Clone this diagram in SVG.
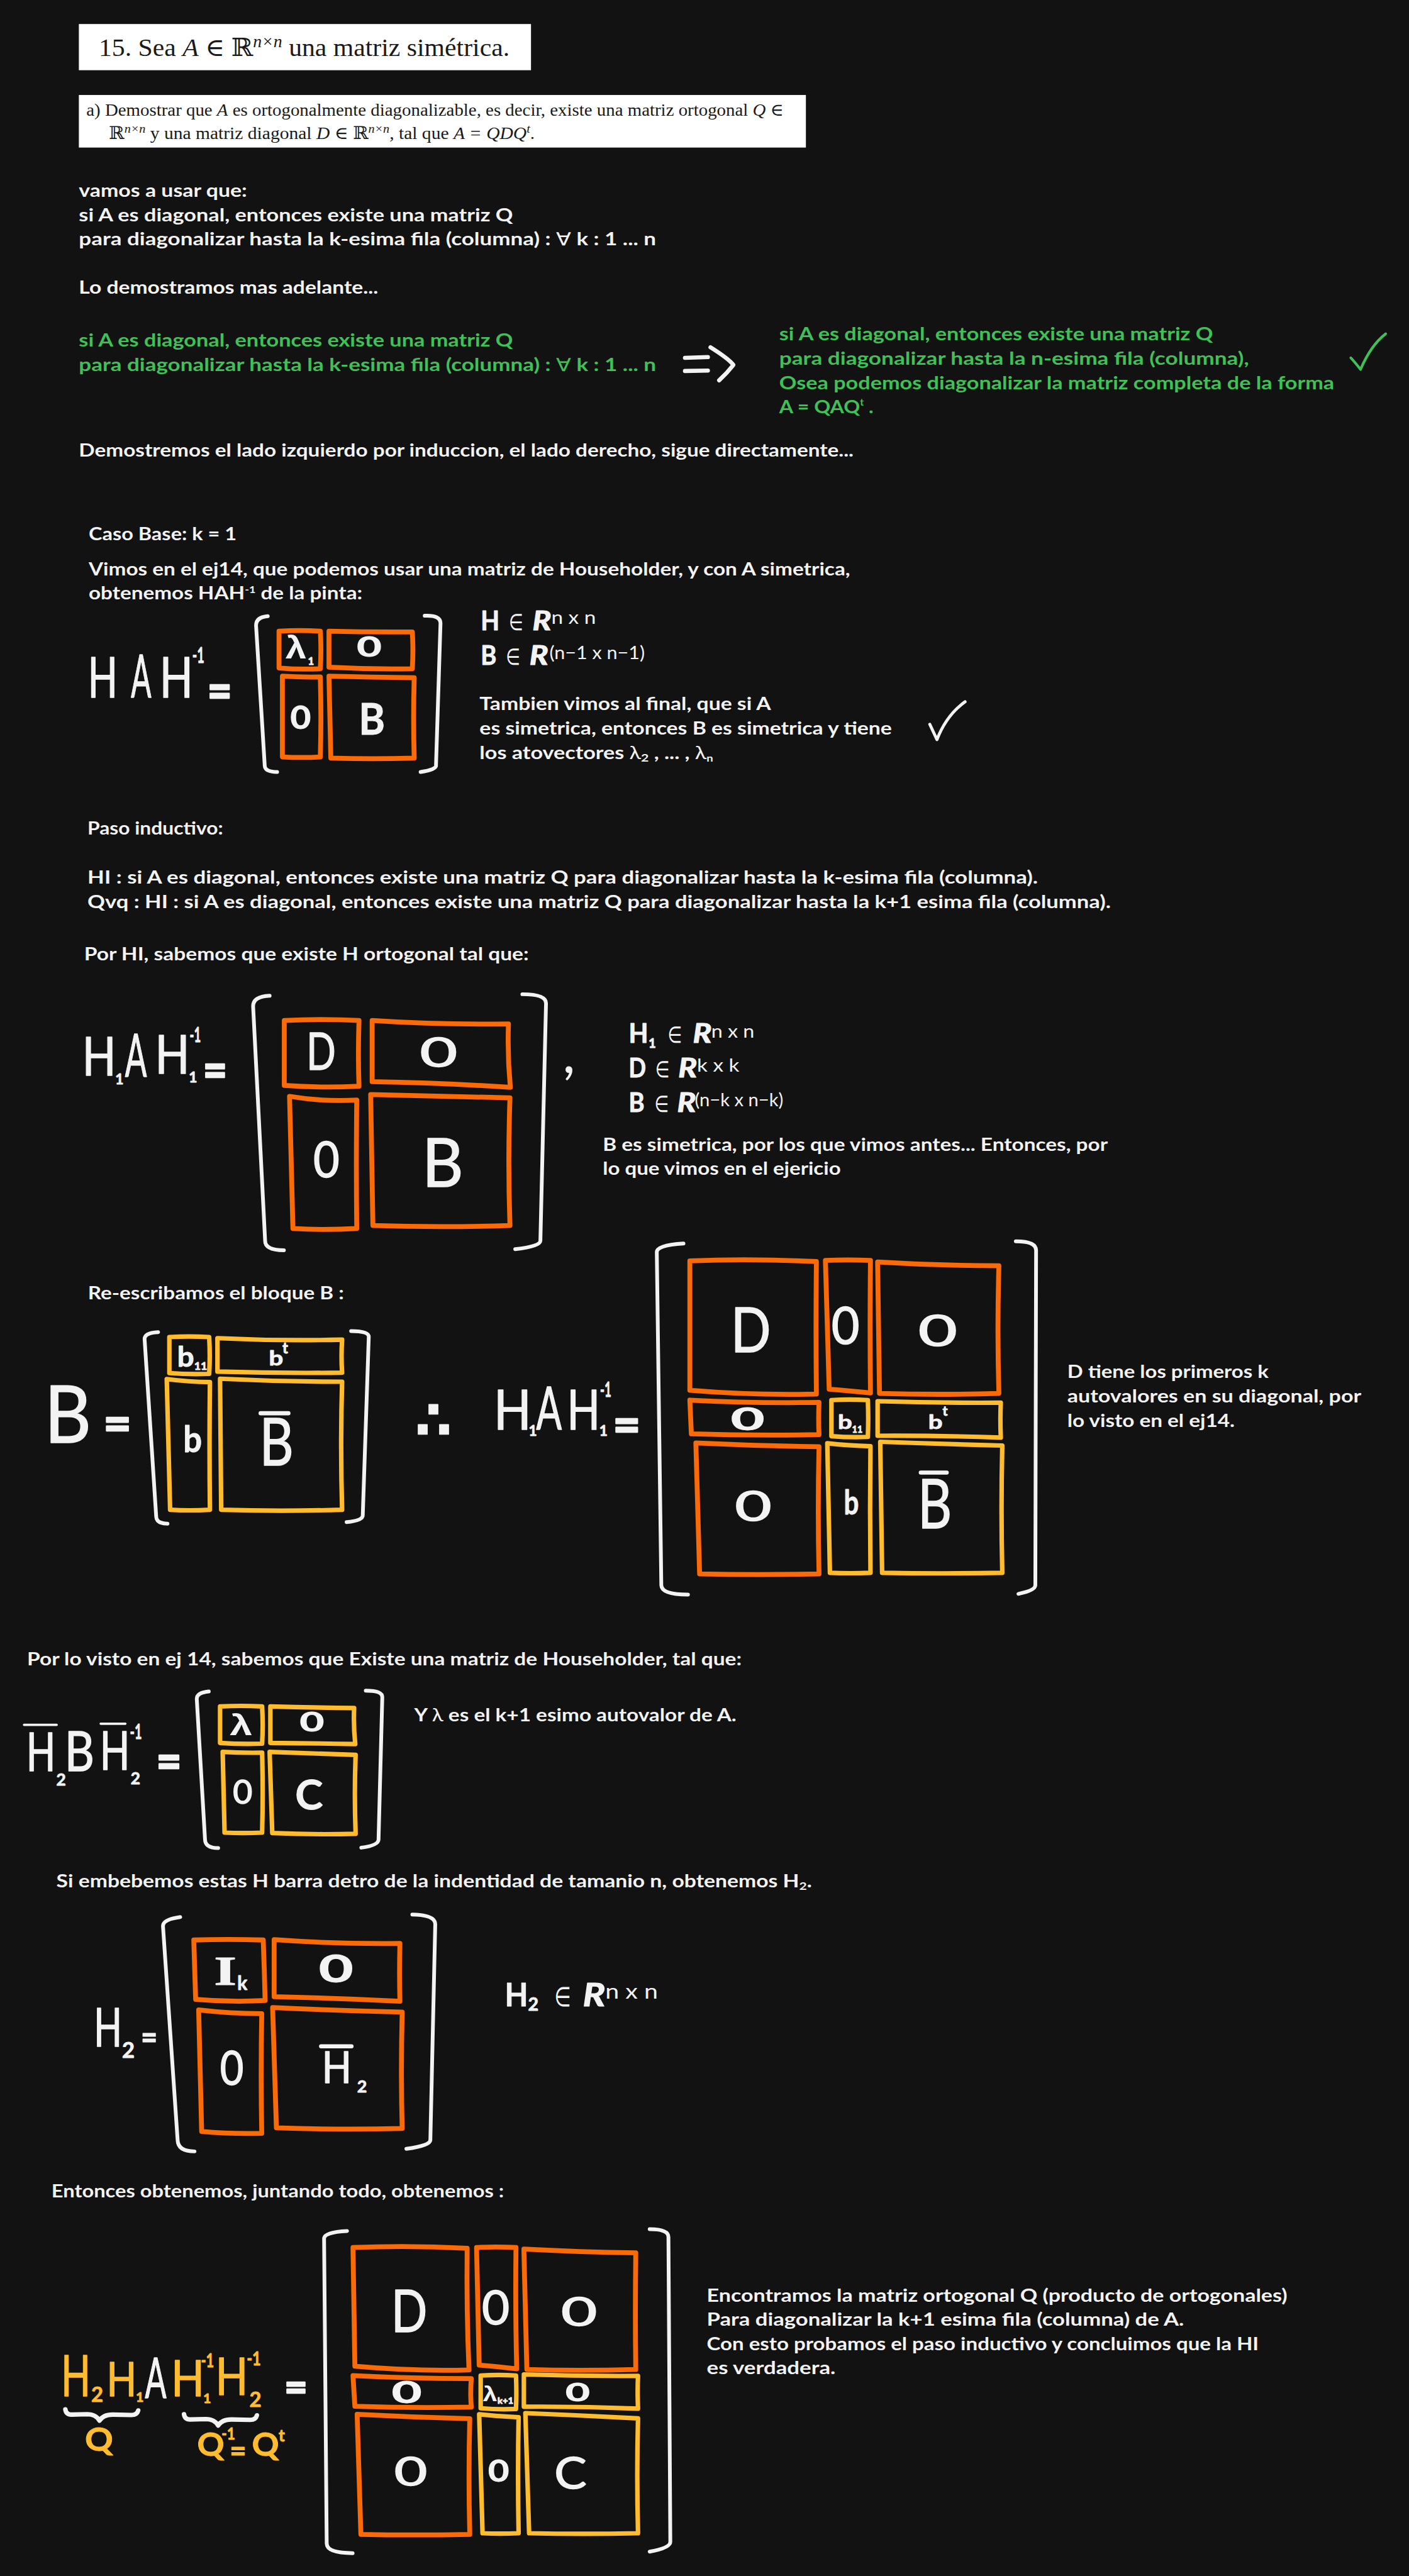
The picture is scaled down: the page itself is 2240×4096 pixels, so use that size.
<svg xmlns="http://www.w3.org/2000/svg" width="2240" height="4096" viewBox="0 0 2240 4096">
<defs><style>
text{font-family:"Lato","DejaVu Sans",sans-serif;fill:#f3f3f3}
.t{font-size:48px;font-weight:700}
.g{fill:#40c057}
.l{font-family:"Liberation Serif","DejaVu Serif",serif;fill:#1a1a1a}
.s{font-weight:400}
.h{font-weight:400;stroke:#f3f3f3;stroke-width:2.5;stroke-linejoin:round}
.b{font-weight:700;stroke:#f3f3f3;stroke-width:1.5;stroke-linejoin:round}
.e{font-weight:700;stroke:#f3f3f3;stroke-width:4;stroke-linejoin:round}
.e2{font-weight:700;stroke:#f3f3f3;stroke-width:2;stroke-linejoin:round}
.i{font-style:italic;font-weight:700;stroke:#f3f3f3;stroke-width:2;stroke-linejoin:round}
.y{fill:#ffbc2e;stroke:#ffbc2e}
.sv{font-family:"Liberation Sans",sans-serif;font-weight:700}
.o,.a,.br,.ln,.gl{fill:none;stroke-linecap:round;stroke-linejoin:round}
.o{stroke:#fa6a06;stroke-width:13}
.a{stroke:#ffbc2e;stroke-width:12}
.br{stroke:#f3f3f3;stroke-width:10}
.ln{stroke:#f3f3f3;stroke-width:11}
.gl{stroke:#40c057;stroke-width:7}
</style></defs>
<rect width="2240" height="4096" fill="#121212"/>
<g transform="scale(0.59701)">

<g id="enunciado">
<rect x="210" y="64" width="1204" height="123" fill="#fff"/>
<text class="l" x="263" y="149" font-size="66" textLength="1094" lengthAdjust="spacingAndGlyphs">15. Sea <tspan font-style="italic">A</tspan> ∈ ℝ<tspan font-size="44" dy="-24" font-style="italic">n×n</tspan><tspan dy="24"> una matriz simétrica.</tspan></text>
<rect x="210" y="253" width="1936" height="140" fill="#fff"/>
<text class="l" x="230" y="308" font-size="47" textLength="1857" lengthAdjust="spacingAndGlyphs">a) Demostrar que <tspan font-style="italic">A</tspan> es ortogonalmente diagonalizable, es decir, existe una matriz ortogonal <tspan font-style="italic">Q</tspan> ∈</text>
<text class="l" x="290" y="370" font-size="47" textLength="1134" lengthAdjust="spacingAndGlyphs">ℝ<tspan font-size="32" dy="-16" font-style="italic">n×n</tspan><tspan dy="16"> y una matriz diagonal </tspan><tspan font-style="italic">D</tspan> ∈ ℝ<tspan font-size="32" dy="-16" font-style="italic">n×n</tspan><tspan dy="16">, tal que </tspan><tspan font-style="italic">A = QDQ</tspan><tspan font-size="32" dy="-16" font-style="italic">t</tspan><tspan dy="16">.</tspan></text>
</g>

<g id="intro">
<text class="t" x="210" y="524" textLength="448" lengthAdjust="spacingAndGlyphs">vamos a usar que:</text>
<text class="t" x="210" y="589" textLength="1156" lengthAdjust="spacingAndGlyphs">si A es diagonal, entonces existe una matriz Q</text>
<text class="t" x="210" y="653" textLength="1537" lengthAdjust="spacingAndGlyphs">para diagonalizar hasta la k-esima fila (columna) : <tspan font-weight="400">∀</tspan> k : 1 ... n</text>
<text class="t" x="210" y="783" textLength="797" lengthAdjust="spacingAndGlyphs">Lo demostramos mas adelante...</text>
<text class="t g" x="210" y="923" textLength="1156" lengthAdjust="spacingAndGlyphs">si A es diagonal, entonces existe una matriz Q</text>
<text class="t g" x="210" y="988" textLength="1537" lengthAdjust="spacingAndGlyphs">para diagonalizar hasta la k-esima fila (columna) : <tspan font-weight="400">∀</tspan> k : 1 ... n</text>
<path class="ln" d="M1824 953 L1885 951 M1824 988 L1885 987 M1892 925 Q1940 955 1953 972 Q1935 995 1915 1013"/>
<text class="t g" x="2075" y="906" textLength="1155" lengthAdjust="spacingAndGlyphs">si A es diagonal, entonces existe una matriz Q</text>
<text class="t g" x="2075" y="972" textLength="1251" lengthAdjust="spacingAndGlyphs">para diagonalizar hasta la n-esima fila (columna),</text>
<text class="t g" x="2075" y="1036" textLength="1478" lengthAdjust="spacingAndGlyphs">Osea podemos diagonalizar la matriz completa de la forma</text>
<text class="t g" x="2075" y="1100" textLength="251" lengthAdjust="spacingAndGlyphs">A = QAQ<tspan font-size="24" dy="-20">t</tspan><tspan dy="20"> .</tspan></text>
<path class="gl" d="M3597 953 Q3608 965 3623 984 Q3650 920 3690 889"/>
<text class="t" x="210" y="1216" textLength="2063" lengthAdjust="spacingAndGlyphs">Demostremos el lado izquierdo por induccion, el lado derecho, sigue directamente...</text>
</g>

<g id="caso-base">
<text class="t" x="236" y="1439" textLength="394" lengthAdjust="spacingAndGlyphs">Caso Base: k = 1</text>
<text class="t" x="236" y="1532" textLength="2028" lengthAdjust="spacingAndGlyphs">Vimos en el ej14, que podemos usar una matriz de Householder, y con A simetrica,</text>
<text class="t" x="236" y="1597" textLength="729" lengthAdjust="spacingAndGlyphs">obtenemos HAH<tspan font-size="26" dy="-18">-1</tspan><tspan dy="18"> de la pinta:</tspan></text>
<text class="h" x="234" y="1857" font-size="149" textLength="79" lengthAdjust="spacingAndGlyphs">H</text>
<text class="h" x="349" y="1857" font-size="158" textLength="54" lengthAdjust="spacingAndGlyphs">A</text>
<text class="h" x="425" y="1857" font-size="149" textLength="89" lengthAdjust="spacingAndGlyphs">H</text>
<text class="b" x="512" y="1766" font-size="56" textLength="32" lengthAdjust="spacingAndGlyphs">-1</text>
<text class="e" x="552" y="1886" font-size="130" textLength="66" lengthAdjust="spacingAndGlyphs">=</text>
<path class="br" d="M713 1641 Q680 1644 682 1668 L705 2040 Q706 2056 738 2056"/>
<path class="br" d="M1131 1640 Q1173 1638 1173 1660 L1161 2040 Q1160 2050 1120 2056"/>
<path class="o" d="M743 1681 q55 -3 110 0 q3 50 0 100 q-55 3 -110 -2 Z"/>
<path class="o" d="M876 1681 q111 3 222 2 q3 50 0 98 q-111 2 -222 -4 Z"/>
<path class="o" d="M752 1801 q50 3 101 2 q3 108 0 213 q-50 3 -101 0 Z"/>
<path class="o" d="M876 1801 q113 3 227 4 q-3 108 0 214 q-113 3 -222 0 Z"/>
<text class="sv" x="760" y="1753" font-size="84" textLength="56" lengthAdjust="spacingAndGlyphs">λ</text>
<text class="b" x="820" y="1771" font-size="28">1</text>
<text class="b" x="950" y="1748" font-size="75" textLength="66" lengthAdjust="spacingAndGlyphs">0</text>
<text class="b" x="773" y="1941" font-size="87" textLength="55" lengthAdjust="spacingAndGlyphs">0</text>
<text class="b" x="955" y="1956" font-size="115" textLength="70" lengthAdjust="spacingAndGlyphs">B</text>
<text class="b" x="1280" y="1679" font-size="70" textLength="50" lengthAdjust="spacingAndGlyphs">H</text>
<text class="s" x="1355" y="1679" font-size="60" textLength="38" lengthAdjust="spacingAndGlyphs">∈</text>
<text class="i" x="1418" y="1679" font-size="70" textLength="50" lengthAdjust="spacingAndGlyphs">R</text>
<text class="s" x="1468" y="1661" font-size="48" textLength="119" lengthAdjust="spacingAndGlyphs">n x n</text>
<text class="b" x="1280" y="1771" font-size="70" textLength="42" lengthAdjust="spacingAndGlyphs">B</text>
<text class="s" x="1347" y="1771" font-size="60" textLength="38" lengthAdjust="spacingAndGlyphs">∈</text>
<text class="i" x="1410" y="1771" font-size="70" textLength="50" lengthAdjust="spacingAndGlyphs">R</text>
<text class="s" x="1463" y="1755" font-size="48" textLength="254" lengthAdjust="spacingAndGlyphs">(n−1 x n−1)</text>
<text class="t" x="1277" y="1891" textLength="776" lengthAdjust="spacingAndGlyphs">Tambien vimos al final, que si A</text>
<text class="t" x="1277" y="1957" textLength="1098" lengthAdjust="spacingAndGlyphs">es simetrica, entonces B es simetrica y tiene</text>
<text class="t" x="1277" y="2021" textLength="622" lengthAdjust="spacingAndGlyphs">los atovectores <tspan font-weight="400">λ</tspan><tspan font-size="30" dy="8">2</tspan><tspan dy="-8"> , ... , </tspan><tspan font-weight="400">λ</tspan><tspan font-size="26" dy="8">n</tspan></text>
<path class="ln" style="stroke-width:8" d="M2476 1929 L2495 1970 Q2520 1905 2570 1869"/>
</g>

<g id="paso-inductivo">
<text class="t" x="233" y="2222" textLength="361" lengthAdjust="spacingAndGlyphs">Paso inductivo:</text>
<text class="t" x="233" y="2353" textLength="2531" lengthAdjust="spacingAndGlyphs">HI : si A es diagonal, entonces existe una matriz Q para diagonalizar hasta la k-esima fila (columna).</text>
<text class="t" x="233" y="2418" textLength="2725" lengthAdjust="spacingAndGlyphs">Qvq : HI : si A es diagonal, entonces existe una matriz Q para diagonalizar hasta la k+1 esima fila (columna).</text>
<text class="t" x="224" y="2558" textLength="1184" lengthAdjust="spacingAndGlyphs">Por HI, sabemos que existe H ortogonal tal que:</text>
<text class="h" x="219" y="2865" font-size="144" textLength="90" lengthAdjust="spacingAndGlyphs">H</text>
<text class="b" x="307" y="2888" font-size="38">1</text>
<text class="h" x="333" y="2868" font-size="160" textLength="58" lengthAdjust="spacingAndGlyphs">A</text>
<text class="h" x="413" y="2860" font-size="142" textLength="92" lengthAdjust="spacingAndGlyphs">H</text>
<text class="b" x="503" y="2883" font-size="38">1</text>
<text class="b" x="505" y="2776" font-size="55" textLength="30" lengthAdjust="spacingAndGlyphs">-1</text>
<text class="e" x="540" y="2896" font-size="130" textLength="65" lengthAdjust="spacingAndGlyphs">=</text>
<path class="br" d="M718 2652 Q674 2654 674 2680 L706 3305 Q706 3330 756 3330"/>
<path class="br" d="M1391 2648 Q1454 2648 1454 2672 L1439 3305 Q1438 3320 1372 3327"/>
<path class="o" d="M757 2718 q100 -5 199 0 q-3 90 0 175 q-100 5 -199 -2 Z"/>
<path class="o" d="M991 2718 q180 12 363 9 q-3 85 5 169 q-180 -12 -368 -15 Z"/>
<path class="o" d="M771 2920 q90 15 179 10 q-2 175 0 342 q-90 5 -170 0 Z"/>
<path class="o" d="M987 2915 q180 4 371 9 q-6 170 0 340 q-185 6 -365 0 Z"/>
<text class="h" x="816" y="2850" font-size="135" textLength="78" lengthAdjust="spacingAndGlyphs">D</text>
<text class="h" x="1118" y="2840" font-size="108" textLength="100" lengthAdjust="spacingAndGlyphs">0</text>
<text class="h" x="834" y="3136" font-size="133" textLength="70" lengthAdjust="spacingAndGlyphs">0</text>
<text class="h" x="1124" y="3161" font-size="179" textLength="110" lengthAdjust="spacingAndGlyphs">B</text>
<text class="s" x="1498" y="2858" font-size="150">,</text>
<text class="b" x="1674" y="2778" font-size="70" textLength="52" lengthAdjust="spacingAndGlyphs">H</text>
<text class="b" x="1727" y="2790" font-size="34">1</text>
<text class="s" x="1778" y="2778" font-size="60" textLength="38" lengthAdjust="spacingAndGlyphs">∈</text>
<text class="i" x="1845" y="2778" font-size="70" textLength="50" lengthAdjust="spacingAndGlyphs">R</text>
<text class="s" x="1894" y="2763" font-size="48" textLength="115" lengthAdjust="spacingAndGlyphs">n x n</text>
<text class="b" x="1674" y="2869" font-size="70" textLength="46" lengthAdjust="spacingAndGlyphs">D</text>
<text class="s" x="1745" y="2869" font-size="60" textLength="38" lengthAdjust="spacingAndGlyphs">∈</text>
<text class="i" x="1806" y="2869" font-size="70" textLength="50" lengthAdjust="spacingAndGlyphs">R</text>
<text class="s" x="1856" y="2855" font-size="48" textLength="113" lengthAdjust="spacingAndGlyphs">k x k</text>
<text class="b" x="1674" y="2961" font-size="70" textLength="42" lengthAdjust="spacingAndGlyphs">B</text>
<text class="s" x="1743" y="2961" font-size="60" textLength="38" lengthAdjust="spacingAndGlyphs">∈</text>
<text class="i" x="1803" y="2961" font-size="70" textLength="50" lengthAdjust="spacingAndGlyphs">R</text>
<text class="s" x="1850" y="2947" font-size="48" textLength="236" lengthAdjust="spacingAndGlyphs">(n−k x n−k)</text>
<text class="t" x="1605" y="3065" textLength="1345" lengthAdjust="spacingAndGlyphs">B es simetrica, por los que vimos antes... Entonces, por</text>
<text class="t" x="1605" y="3129" textLength="634" lengthAdjust="spacingAndGlyphs">lo que vimos en el ejericio</text>
</g>

<g id="bloque-b">
<text class="t" x="234" y="3461" textLength="682" lengthAdjust="spacingAndGlyphs">Re-escribamos el bloque B :</text>
<text class="h" x="118" y="3842" font-size="210" textLength="125" lengthAdjust="spacingAndGlyphs">B</text>
<text class="e" x="275" y="3838" font-size="130" textLength="75" lengthAdjust="spacingAndGlyphs">=</text>
<path class="br" d="M421 3548 Q385 3550 385 3566 L416 4040 Q417 4058 446 4058"/>
<path class="br" d="M935 3545 Q982 3545 982 3560 L966 4036 Q966 4050 923 4054"/>
<path class="a" d="M451 3561 q53 -3 106 0 q3 50 0 98 q-53 2 -106 -2 Z"/>
<path class="a" d="M579 3564 q166 8 332 4 q-3 45 0 88 q-166 2 -332 -3 Z"/>
<path class="a" d="M444 3673 q58 8 115 8 q-2 170 0 340 q-55 3 -106 0 Z"/>
<path class="a" d="M586 3672 q162 8 325 8 q-5 170 0 341 q-162 5 -322 0 Z"/>
<text class="b" x="472" y="3639" font-size="73" textLength="45" lengthAdjust="spacingAndGlyphs">b</text>
<text class="b" x="517" y="3648" font-size="30">11</text>
<text class="b" x="716" y="3636" font-size="53" textLength="38" lengthAdjust="spacingAndGlyphs">b</text>
<text class="b" x="752" y="3604" font-size="40">t</text>
<text class="b" x="488" y="3867" font-size="95" textLength="50" lengthAdjust="spacingAndGlyphs">b</text>
<path class="ln" d="M694 3764 H768"/>
<text class="h" x="691" y="3903" font-size="176" textLength="91" lengthAdjust="spacingAndGlyphs">B</text>
<text class="b" x="1105" y="3830" font-size="140" style="font-family:'DejaVu Sans',sans-serif">∴</text>
<text class="h" x="1315" y="3808" font-size="146" textLength="100" lengthAdjust="spacingAndGlyphs">H</text>
<text class="b" x="1408" y="3824" font-size="38">1</text>
<text class="h" x="1428" y="3808" font-size="158" textLength="68" lengthAdjust="spacingAndGlyphs">A</text>
<text class="h" x="1510" y="3808" font-size="146" textLength="88" lengthAdjust="spacingAndGlyphs">H</text>
<text class="b" x="1596" y="3824" font-size="38">1</text>
<text class="b" x="1598" y="3721" font-size="55" textLength="30" lengthAdjust="spacingAndGlyphs">-1</text>
<text class="e" x="1632" y="3841" font-size="130" textLength="74" lengthAdjust="spacingAndGlyphs">=</text>
<path class="br" d="M1820 3312 Q1749 3316 1749 3335 L1761 4222 Q1762 4247 1832 4247"/>
<path class="br" d="M2705 3306 Q2759 3306 2759 3330 L2757 4222 Q2757 4236 2712 4245"/>
<path class="o" d="M1837 3358 q168 -6 337 2 q-2 180 0 353 q-168 4 -337 -10 Z"/>
<path class="o" d="M2198 3357 q60 -3 120 0 q-2 180 0 353 q-60 -6 -110 -10 Z"/>
<path class="o" d="M2337 3361 q160 10 323 10 q-5 170 0 340 q-160 5 -318 0 Z"/>
<path class="o" d="M1837 3729 q172 9 344 6 q-2 45 0 86 q-172 3 -340 -2 Z"/>
<path class="a" d="M2214 3729 q48 -3 97 0 q2 48 0 98 q-48 2 -97 -2 Z"/>
<path class="a" d="M2337 3732 q164 5 328 4 q-2 45 0 93 q-164 -6 -328 -5 Z"/>
<path class="o" d="M1853 3843 q164 8 328 10 q-4 170 0 339 q-164 3 -318 0 Z"/>
<path class="a" d="M2203 3844 q55 6 115 8 q-2 170 0 337 q-55 2 -108 0 Z"/>
<path class="a" d="M2344 3840 q162 6 325 10 q-4 170 0 339 q-162 3 -320 0 Z"/>
<text class="h" x="1946" y="3601" font-size="165" textLength="107" lengthAdjust="spacingAndGlyphs">D</text>
<text class="h" x="2214" y="3580" font-size="135" textLength="75" lengthAdjust="spacingAndGlyphs">0</text>
<text class="h" x="2445" y="3585" font-size="114" textLength="104" lengthAdjust="spacingAndGlyphs">0</text>
<text class="b" x="1946" y="3809" font-size="82" textLength="90" lengthAdjust="spacingAndGlyphs">0</text>
<text class="b" x="2231" y="3806" font-size="50" textLength="38" lengthAdjust="spacingAndGlyphs">b</text>
<text class="b" x="2269" y="3815" font-size="24">11</text>
<text class="b" x="2472" y="3806" font-size="50" textLength="38" lengthAdjust="spacingAndGlyphs">b</text>
<text class="b" x="2510" y="3770" font-size="36">t</text>
<text class="h" x="1957" y="4051" font-size="110" textLength="98" lengthAdjust="spacingAndGlyphs">0</text>
<text class="b" x="2247" y="4033" font-size="90" textLength="40" lengthAdjust="spacingAndGlyphs">b</text>
<path class="ln" d="M2452 3922 H2521"/>
<text class="h" x="2444" y="4071" font-size="182" textLength="91" lengthAdjust="spacingAndGlyphs">B</text>
<text class="t" x="2842" y="3670" textLength="536" lengthAdjust="spacingAndGlyphs">D tiene los primeros k</text>
<text class="t" x="2842" y="3735" textLength="783" lengthAdjust="spacingAndGlyphs">autovalores en su diagonal, por</text>
<text class="t" x="2842" y="3800" textLength="446" lengthAdjust="spacingAndGlyphs">lo visto en el ej14.</text>
</g>

<g id="householder">
<text class="t" x="72" y="4436" textLength="1903" lengthAdjust="spacingAndGlyphs">Por lo visto en ej 14, sabemos que Existe una matriz de Householder, tal que:</text>
<path class="ln" style="stroke-width:6" d="M64 4594 H151 M268 4591 H334"/>
<text class="h" x="70" y="4717" font-size="142" textLength="78" lengthAdjust="spacingAndGlyphs">H</text>
<text class="b" x="150" y="4755" font-size="44">2</text>
<text class="h" x="172" y="4717" font-size="146" textLength="79" lengthAdjust="spacingAndGlyphs">B</text>
<text class="h" x="266" y="4714" font-size="144" textLength="80" lengthAdjust="spacingAndGlyphs">H</text>
<text class="b" x="348" y="4752" font-size="44">2</text>
<text class="b" x="346" y="4631" font-size="55" textLength="32" lengthAdjust="spacingAndGlyphs">-1</text>
<text class="e" x="416" y="4737" font-size="130" textLength="68" lengthAdjust="spacingAndGlyphs">=</text>
<path class="br" d="M556 4505 Q524 4508 524 4525 L546 4900 Q547 4922 581 4922"/>
<path class="br" d="M974 4503 Q1018 4503 1018 4520 L1008 4900 Q1007 4915 962 4921"/>
<path class="a" d="M586 4545 q56 -3 112 0 q3 50 0 99 q-56 2 -112 -2 Z"/>
<path class="a" d="M720 4545 q112 3 223 4 q-2 50 3 96 q-112 -2 -226 -3 Z"/>
<path class="a" d="M593 4666 q52 3 105 2 q3 108 0 213 q-52 2 -100 0 Z"/>
<path class="a" d="M718 4666 q114 4 229 8 q-4 105 0 210 q-114 3 -222 -2 Z"/>
<text class="sv" x="612" y="4621" font-size="78" textLength="60" lengthAdjust="spacingAndGlyphs">λ</text>
<text class="b" x="798" y="4612" font-size="71" textLength="65" lengthAdjust="spacingAndGlyphs">0</text>
<text class="h" x="620" y="4804" font-size="86" textLength="52" lengthAdjust="spacingAndGlyphs">0</text>
<text class="b" x="786" y="4819" font-size="110" textLength="74" lengthAdjust="spacingAndGlyphs">C</text>
<text class="t" x="1103" y="4585" textLength="858" lengthAdjust="spacingAndGlyphs">Y <tspan font-weight="400">λ</tspan> es el k+1 esimo autovalor de A.</text>
<text class="t" x="150" y="5026" textLength="2012" lengthAdjust="spacingAndGlyphs">Si embebemos estas H barra detro de la indentidad de tamanio n, obtenemos H<tspan font-size="30" dy="8">2</tspan><tspan dy="-8">.</tspan></text>
</g>

<g id="h2">
<text class="h" x="250" y="5451" font-size="142" textLength="75" lengthAdjust="spacingAndGlyphs">H</text>
<text class="b" x="325" y="5480" font-size="58">2</text>
<text class="e2" x="375" y="5457" font-size="90" textLength="44" lengthAdjust="spacingAndGlyphs">=</text>
<path class="br" d="M480 5106 Q434 5112 434 5130 L473 5700 Q474 5730 518 5730"/>
<path class="br" d="M1098 5099 Q1159 5100 1159 5125 L1146 5700 Q1145 5715 1082 5723"/>
<path class="o" d="M516 5167 q92 -3 185 0 q3 80 5 161 q-92 5 -185 -3 Z"/>
<path class="o" d="M730 5166 q165 12 335 10 q-2 80 0 154 q-165 -8 -335 -12 Z"/>
<path class="o" d="M529 5353 q84 10 168 10 q-3 160 0 319 q-84 2 -160 -5 Z"/>
<path class="o" d="M726 5347 q170 8 345 12 q-4 160 0 310 q-172 4 -335 -2 Z"/>
<text class="b" x="570" y="5286" font-size="110" textLength="60" lengthAdjust="spacingAndGlyphs" style="font-family:'Liberation Serif',serif">I</text>
<text class="b" x="632" y="5300" font-size="50">k</text>
<text class="b" x="849" y="5280" font-size="103" textLength="92" lengthAdjust="spacingAndGlyphs">0</text>
<text class="h" x="586" y="5553" font-size="125" textLength="63" lengthAdjust="spacingAndGlyphs">0</text>
<path class="ln" d="M855 5450 H936"/>
<text class="h" x="857" y="5547" font-size="117" textLength="79" lengthAdjust="spacingAndGlyphs">H</text>
<text class="b" x="951" y="5573" font-size="45">2</text>
<text class="b" x="1344" y="5344" font-size="85" textLength="62" lengthAdjust="spacingAndGlyphs">H</text>
<text class="b" x="1406" y="5355" font-size="48">2</text>
<text class="s" x="1476" y="5344" font-size="72" textLength="44" lengthAdjust="spacingAndGlyphs">∈</text>
<text class="i" x="1552" y="5344" font-size="85" textLength="60" lengthAdjust="spacingAndGlyphs">R</text>
<text class="s" x="1612" y="5324" font-size="55" textLength="140" lengthAdjust="spacingAndGlyphs">n x n</text>
</g>

<g id="final">
<text class="t" x="137" y="5853" textLength="1205" lengthAdjust="spacingAndGlyphs">Entonces obtenemos, juntando todo, obtenemos :</text>
<text class="h y" x="163" y="6382" font-size="151" textLength="78" lengthAdjust="spacingAndGlyphs">H</text>
<text class="b y" x="243" y="6397" font-size="55">2</text>
<text class="h y" x="284" y="6381" font-size="128" textLength="80" lengthAdjust="spacingAndGlyphs">H</text>
<text class="b y" x="362" y="6397" font-size="36">1</text>
<text class="h" x="386" y="6387" font-size="148" textLength="57" lengthAdjust="spacingAndGlyphs">A</text>
<text class="h y" x="456" y="6381" font-size="132" textLength="88" lengthAdjust="spacingAndGlyphs">H</text>
<text class="b y" x="541" y="6400" font-size="36">1</text>
<text class="b y" x="535" y="6305" font-size="50" textLength="35" lengthAdjust="spacingAndGlyphs">-1</text>
<text class="h y" x="574" y="6378" font-size="136" textLength="86" lengthAdjust="spacingAndGlyphs">H</text>
<text class="b y" x="664" y="6410" font-size="55">2</text>
<text class="b y" x="657" y="6300" font-size="50" textLength="38" lengthAdjust="spacingAndGlyphs">-1</text>
<text class="e" x="757" y="6396" font-size="110" textLength="62" lengthAdjust="spacingAndGlyphs">=</text>
<path class="ln" style="stroke-width:12" d="M174 6417 Q176 6431 190 6431 L232 6430 Q255 6430 265 6447 Q275 6431 300 6431 L350 6432 Q365 6432 368 6420"/>
<path class="ln" style="stroke-width:12" d="M490 6430 Q492 6444 506 6444 L548 6443 Q571 6443 581 6460 Q591 6444 616 6444 L666 6445 Q681 6445 684 6433"/>
<text class="b y" x="226" y="6527" font-size="85" textLength="75" lengthAdjust="spacingAndGlyphs">Q</text>
<text class="b y" x="525" y="6541" font-size="85" textLength="72" lengthAdjust="spacingAndGlyphs">Q</text>
<text class="b y" x="590" y="6497" font-size="45" textLength="36" lengthAdjust="spacingAndGlyphs">-1</text>
<text class="e2 y" x="612" y="6556" font-size="80" textLength="44" lengthAdjust="spacingAndGlyphs">=</text>
<text class="b y" x="671" y="6541" font-size="85" textLength="72" lengthAdjust="spacingAndGlyphs">Q</text>
<text class="b y" x="742" y="6502" font-size="44">t</text>
<path class="br" d="M924 5942 Q863 5945 863 5962 L870 6775 Q871 6800 939 6800"/>
<path class="br" d="M1730 5937 Q1780 5937 1780 5958 L1785 6770 Q1785 6786 1730 6796"/>
<path class="o" d="M940 5986 q150 -6 304 2 q-2 170 5 324 q-150 4 -304 -10 Z"/>
<path class="o" d="M1269 5986 q50 -3 105 0 q-2 170 2 323 q-50 -6 -100 -10 Z"/>
<path class="o" d="M1395 5990 q150 8 298 10 q-2 160 0 311 q-150 4 -290 0 Z"/>
<path class="o" d="M940 6327 q157 8 315 8 q-3 40 0 76 q-157 3 -310 -2 Z"/>
<path class="a" d="M1280 6327 q47 -3 94 0 q2 44 0 89 q-47 2 -94 -2 Z"/>
<path class="a" d="M1395 6324 q152 5 304 4 q-2 40 0 87 q-152 -6 -304 -5 Z"/>
<path class="o" d="M951 6430 q150 8 300 12 q-4 150 0 308 q-150 3 -290 0 Z"/>
<path class="a" d="M1276 6430 q52 6 105 8 q-3 150 0 309 q-52 2 -96 0 Z"/>
<path class="a" d="M1399 6427 q150 6 300 14 q-4 150 0 306 q-150 3 -290 0 Z"/>
<text class="h" x="1042" y="6211" font-size="155" textLength="96" lengthAdjust="spacingAndGlyphs">D</text>
<text class="h" x="1283" y="6191" font-size="125" textLength="74" lengthAdjust="spacingAndGlyphs">0</text>
<text class="h" x="1494" y="6195" font-size="103" textLength="96" lengthAdjust="spacingAndGlyphs">0</text>
<text class="b" x="1043" y="6401" font-size="79" textLength="80" lengthAdjust="spacingAndGlyphs">0</text>
<text class="sv" x="1286" y="6395" font-size="56" textLength="38" lengthAdjust="spacingAndGlyphs">λ</text>
<text class="b" x="1325" y="6402" font-size="22" textLength="42" lengthAdjust="spacingAndGlyphs">k+1</text>
<text class="b" x="1506" y="6395" font-size="67" textLength="65" lengthAdjust="spacingAndGlyphs">0</text>
<text class="h" x="1050" y="6620" font-size="104" textLength="88" lengthAdjust="spacingAndGlyphs">0</text>
<text class="b" x="1300" y="6610" font-size="79" textLength="56" lengthAdjust="spacingAndGlyphs">0</text>
<text class="h" x="1476" y="6628" font-size="117" textLength="86" lengthAdjust="spacingAndGlyphs">C</text>
<text class="t" x="1882" y="6130" textLength="1546" lengthAdjust="spacingAndGlyphs">Encontramos la matriz ortogonal Q (producto de ortogonales)</text>
<text class="t" x="1882" y="6194" textLength="1271" lengthAdjust="spacingAndGlyphs">Para diagonalizar la k+1 esima fila (columna) de A.</text>
<text class="t" x="1882" y="6259" textLength="1470" lengthAdjust="spacingAndGlyphs">Con esto probamos el paso inductivo y concluimos que la HI</text>
<text class="t" x="1882" y="6324" textLength="343" lengthAdjust="spacingAndGlyphs">es verdadera.</text>
</g>
</g>
</svg>
